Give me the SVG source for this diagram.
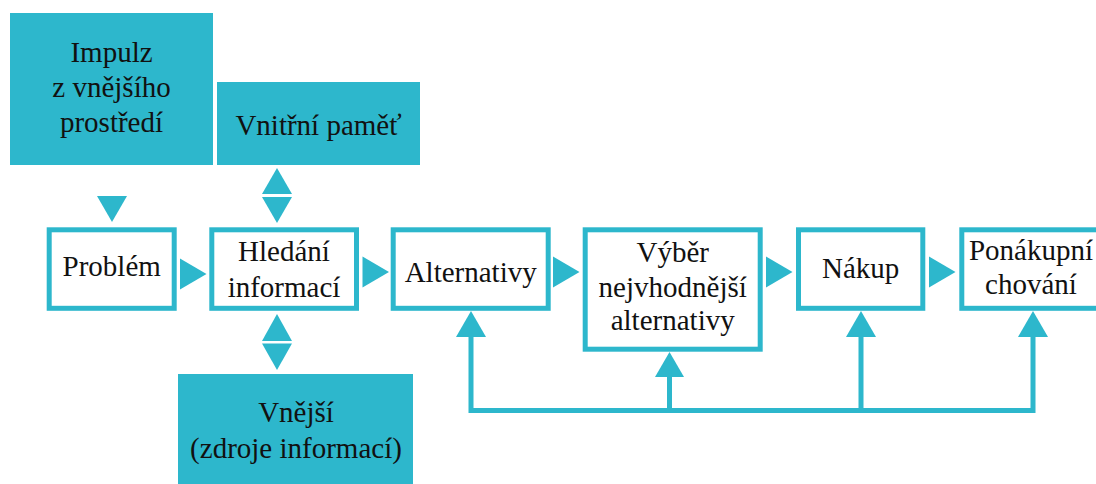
<svg xmlns="http://www.w3.org/2000/svg" width="1096" height="484" viewBox="0 0 1096 484">
<rect width="1096" height="484" fill="#fff"/>
<g id="impulz">
<rect fill="#2db7cc" x="10" y="13" width="203" height="152"/>
<text x="111.5" y="62" font-family="Liberation Serif" font-size="29" fill="#111" text-anchor="middle">Impulz</text>
<text x="111.5" y="97" font-family="Liberation Serif" font-size="29" fill="#111" text-anchor="middle">z vnějšího</text>
<text x="111.5" y="132" font-family="Liberation Serif" font-size="29" fill="#111" text-anchor="middle">prostředí</text>
</g>
<g id="vnitrni">
<rect fill="#2db7cc" x="217" y="82" width="203" height="83"/>
<text x="318.5" y="135" font-family="Liberation Serif" font-size="29" fill="#111" text-anchor="middle">Vnitřní paměť</text>
</g>
<g id="vnejsi">
<rect fill="#2db7cc" x="178" y="374" width="235" height="120"/>
<text x="296" y="422" font-family="Liberation Serif" font-size="29" fill="#111" text-anchor="middle">Vnější</text>
<text x="296" y="458" font-family="Liberation Serif" font-size="29" fill="#111" text-anchor="middle">(zdroje informací)</text>
</g>
<g id="problem">
<rect fill="#fff" stroke="#2db7cc" stroke-width="5" x="49.2" y="229.8" width="125" height="78.5"/>
<text x="111.7" y="276" font-family="Liberation Serif" font-size="29" fill="#111" text-anchor="middle">Problém</text>
</g>
<g id="hledani">
<rect fill="#fff" stroke="#2db7cc" stroke-width="5" x="211.8" y="229.8" width="144.7" height="78.5"/>
<text x="284" y="261" font-family="Liberation Serif" font-size="29" fill="#111" text-anchor="middle">Hledání</text>
<text x="284" y="296.5" font-family="Liberation Serif" font-size="29" fill="#111" text-anchor="middle">informací</text>
</g>
<g id="alternativy">
<rect fill="#fff" stroke="#2db7cc" stroke-width="5" x="393.2" y="229.8" width="155" height="78.5"/>
<text x="470.7" y="282" font-family="Liberation Serif" font-size="29" fill="#111" text-anchor="middle">Alternativy</text>
</g>
<g id="vyber">
<rect fill="#fff" stroke="#2db7cc" stroke-width="5" x="585.2" y="229.8" width="175" height="119.4"/>
<text x="672.7" y="261.5" font-family="Liberation Serif" font-size="29" fill="#111" text-anchor="middle">Výběr</text>
<text x="672.7" y="296.5" font-family="Liberation Serif" font-size="29" fill="#111" text-anchor="middle">nejvhodnější</text>
<text x="672.7" y="330" font-family="Liberation Serif" font-size="29" fill="#111" text-anchor="middle">alternativy</text>
</g>
<g id="nakup">
<rect fill="#fff" stroke="#2db7cc" stroke-width="5" x="798.5" y="229.8" width="124.3" height="78.5"/>
<text x="860.7" y="278" font-family="Liberation Serif" font-size="29" fill="#111" text-anchor="middle">Nákup</text>
</g>
<g id="ponakupni">
<rect fill="#fff" stroke="#2db7cc" stroke-width="5" x="961.8" y="229.8" width="140" height="78.5"/>
<text x="1031" y="260" font-family="Liberation Serif" font-size="29" fill="#111" text-anchor="middle">Ponákupní</text>
<text x="1031" y="294" font-family="Liberation Serif" font-size="29" fill="#111" text-anchor="middle">chování</text>
</g>
<g id="connectors" fill="#2db7cc">
<polygon points="97,196 127,196 112,222"/>
<polygon points="262,194 292,194 277,168"/>
<polygon points="262,197 292,197 277,223"/>
<polygon points="262,341 292,341 277,314"/>
<polygon points="262,343.5 292,343.5 277,370"/>
<polygon points="180,258.5 180,289.5 206.5,274"/>
<polygon points="362.5,256.5 362.5,287.5 389,272"/>
<polygon points="553,256.5 553,287.5 579.5,272"/>
<polygon points="766,256.5 766,287.5 792.5,272"/>
<polygon points="929,256.5 929,287.5 955.5,272"/>
<path fill="none" stroke="#2db7cc" stroke-width="5" d="M471,336 V410.5 H1033 V336 M669.5,375 V410.5 M861,336 V410.5"/>
<polygon points="456,337 486,337 471,311"/>
<polygon points="655,377 684,377 669.5,352"/>
<polygon points="846,337 876,337 861,311"/>
<polygon points="1018,337 1048,337 1033,311"/>
</g>
</svg>
